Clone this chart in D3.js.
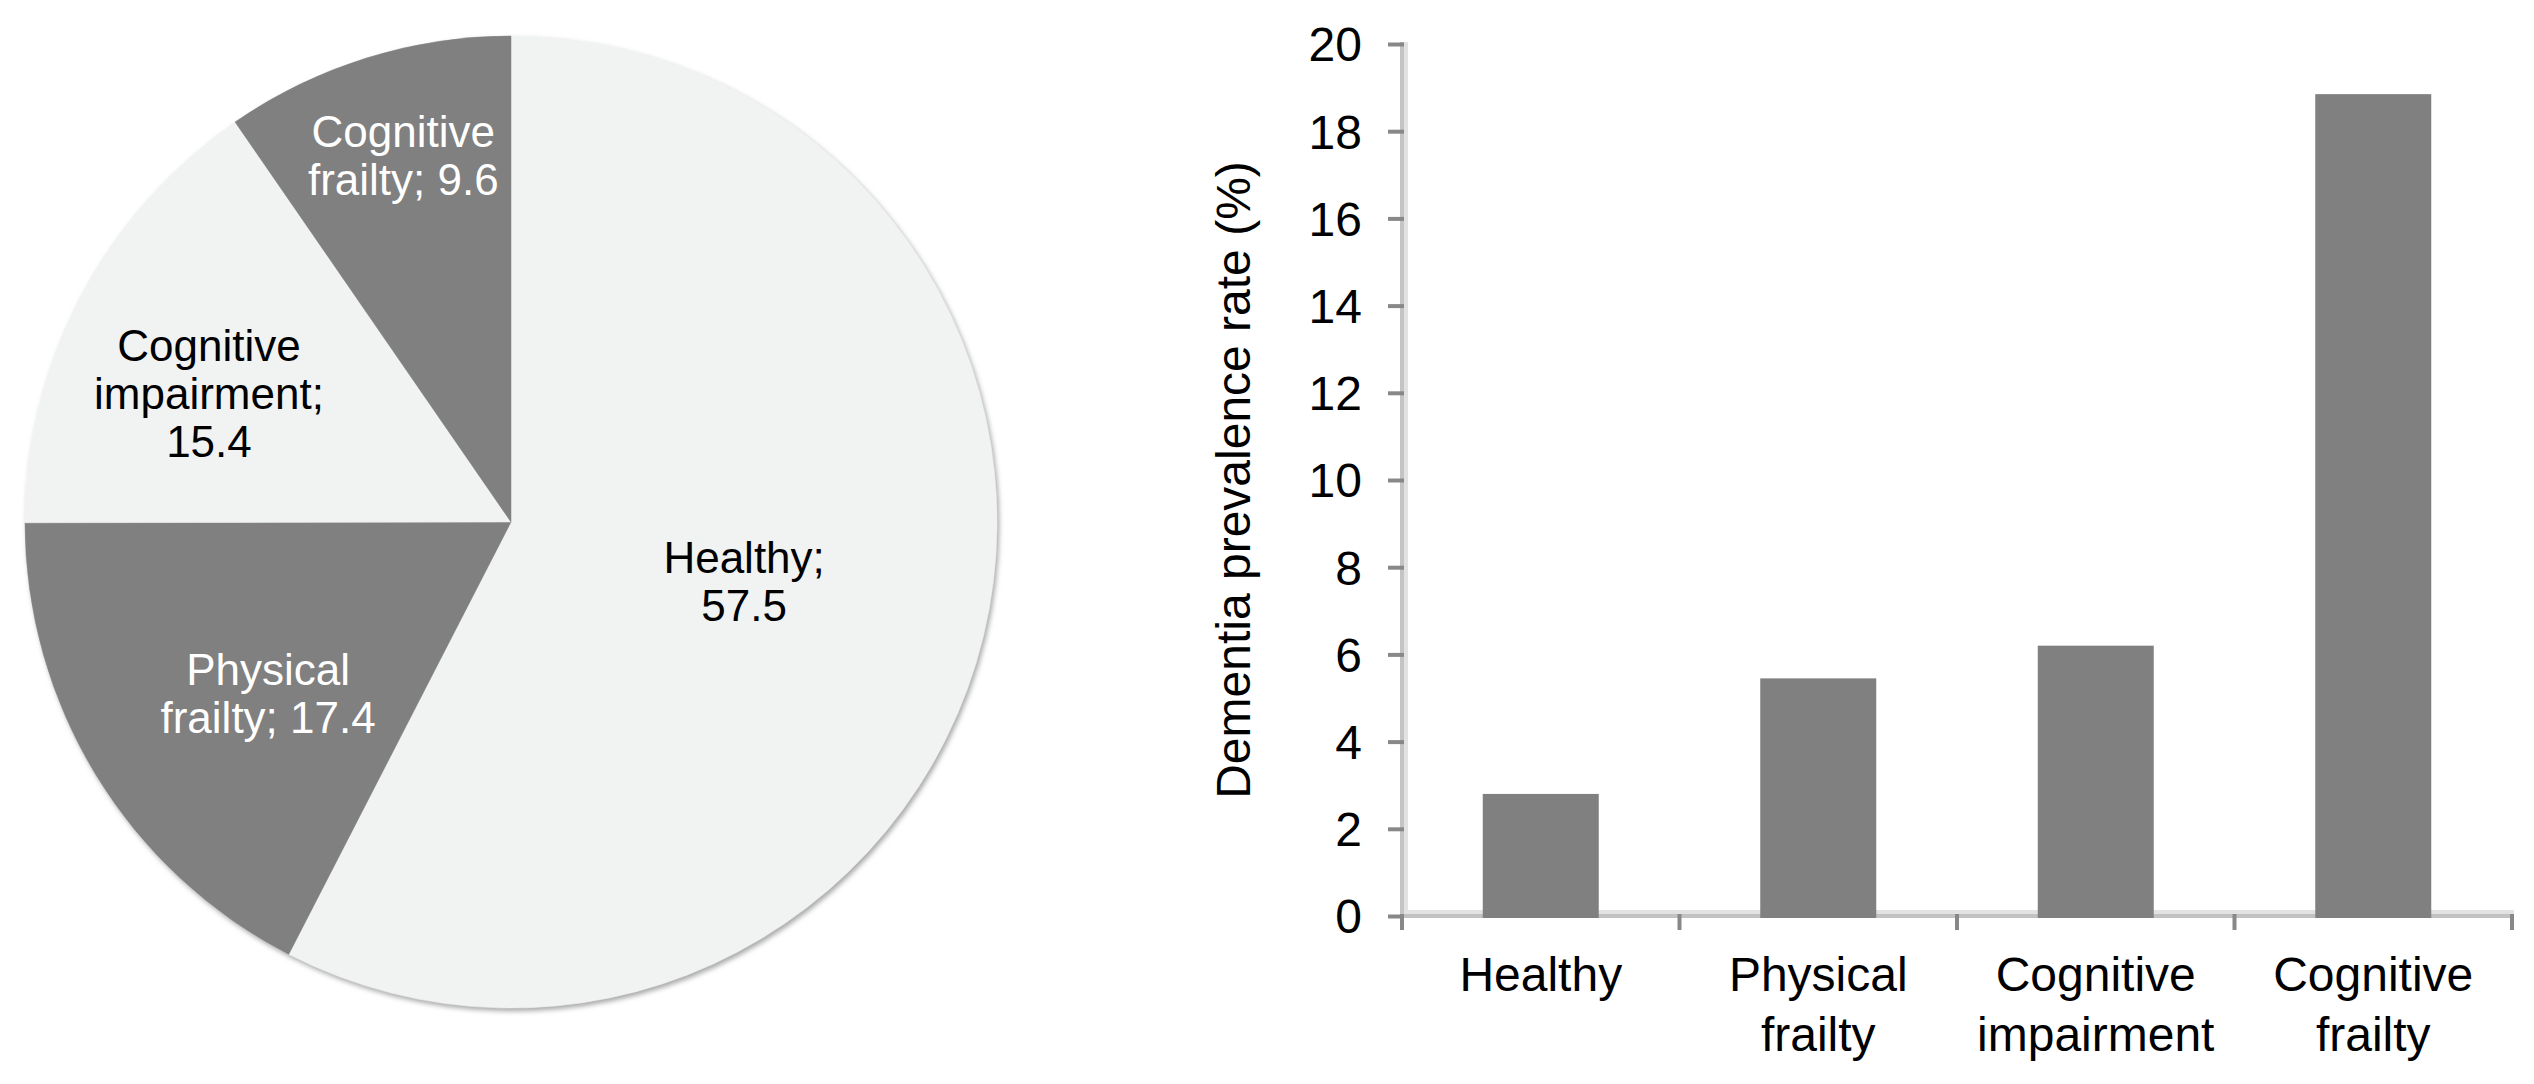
<!DOCTYPE html>
<html>
<head>
<meta charset="utf-8">
<script src="https://cdn.jsdelivr.net/npm/d3@7/dist/d3.min.js"></script>
<style>
  html, body { margin: 0; padding: 0; background: #ffffff; }
  svg { display: block; }
  text { font-family: "Liberation Sans", Arial, Helvetica, sans-serif; }
</style>
</head>
<body>
<svg id="chart" width="2534" height="1084"></svg>
<script>
// ---------- data ----------
const pieCategories = ["Healthy", "Physical frailty", "Cognitive impairment", "Cognitive frailty"];
const pieValues = [57.5, 17.4, 15.4, 9.6];
const pieLabelLines = [
  ["Healthy;", "57.5"],
  ["Physical", "frailty; 17.4"],
  ["Cognitive", "impairment;", "15.4"],
  ["Cognitive", "frailty; 9.6"]
];

const barCategories = ["Healthy", "Physical frailty", "Cognitive impairment", "Cognitive frailty"];
const barLabelLines = [["Healthy"], ["Physical", "frailty"], ["Cognitive", "impairment"], ["Cognitive", "frailty"]];
const barValues = [2.8, 5.45, 6.2, 18.85];
const yTickValues = [0, 2, 4, 6, 8, 10, 12, 14, 16, 18, 20];
const yAxisTitle = "Dementia prevalence rate (%)";

// ---------- styles / layout ----------
const svg = d3.select("#chart");
const DARK = "#808080", LIGHT = "#f1f2f2";
const sliceColors = [LIGHT, DARK, LIGHT, DARK];
const sliceText = ["#000000", "#ffffff", "#000000", "#ffffff"];
// label placement (fraction of radius, angular nudge in degrees)
const labelRadiusFactor = [0.495, 0.612, 0.675, 0.785];
const labelAngleNudge = [0.7, -3.8, -4.7, 0.9];

const defs = svg.append("defs");
const f = defs.append("filter").attr("id", "shadow")
  .attr("x", "-5%").attr("y", "-5%").attr("width", "110%").attr("height", "110%");
f.append("feDropShadow").attr("dx", 2).attr("dy", 3).attr("stdDeviation", 2.5)
  .attr("flood-color", "#8a8a8a").attr("flood-opacity", 0.75);

// ---------- pie ----------
const cx = 511, cy = 522, R = 486;
const pie = d3.pie().sort(null).value(d => d);
const arcs = pie(pieValues);
const arc = d3.arc().innerRadius(0).outerRadius(R);

const pg = svg.append("g").attr("transform", `translate(${cx},${cy})`);
pg.append("g").attr("filter", "url(#shadow)")
  .selectAll("path").data(arcs).join("path")
  .attr("d", arc)
  .attr("fill", (d, i) => sliceColors[i])
  .attr("stroke", (d, i) => sliceColors[i])
  .attr("stroke-width", 0.5);

const pieFont = 44, pieLine = 48;
arcs.forEach((d, i) => {
  const mid = (d.startAngle + d.endAngle) / 2 + labelAngleNudge[i] * Math.PI / 180;
  const r = R * labelRadiusFactor[i];
  const lx = r * Math.sin(mid), ly = -r * Math.cos(mid);
  const lines = pieLabelLines[i];
  const firstBase = ly - (lines.length - 1) * pieLine / 2 + pieFont * 0.35;
  const t = pg.append("text")
    .attr("text-anchor", "middle")
    .attr("font-size", pieFont)
    .attr("fill", sliceText[i]);
  lines.forEach((s, j) => {
    t.append("tspan").attr("x", lx).attr("y", firstBase + j * pieLine).text(s);
  });
});

// ---------- bar chart ----------
const x0 = 1402, x1 = 2512, yTop = 44, yBase = 916;
const pad = 1 - 116 / ((x1 - x0) / barCategories.length);
const x = d3.scaleBand().domain(barCategories).range([x0, x1])
  .paddingInner(pad).paddingOuter(pad / 2);
const y = d3.scaleLinear().domain([0, 20]).range([yBase, yTop]);

const bg = svg.append("g");

// y axis line (two-tone)
bg.append("rect").attr("x", x0 - 2).attr("y", y(20) - 2).attr("width", 4).attr("height", y(0) - y(20) + 4).attr("fill", "#c4c4c4");
bg.append("rect").attr("x", x0 + 2).attr("y", y(20) - 2).attr("width", 4).attr("height", y(0) - y(20) - 4).attr("fill", "#e2e2e2");
// x axis line (two-tone)
bg.append("rect").attr("x", x0 + 2).attr("y", y(0) - 6).attr("width", x1 - x0).attr("height", 4).attr("fill", "#e2e2e2");
bg.append("rect").attr("x", x0 - 2).attr("y", y(0) - 2).attr("width", x1 - x0 + 4).attr("height", 4).attr("fill", "#c2c2c2");

// y ticks and labels
const yAxis = d3.axisLeft(y).tickValues(yTickValues).tickSize(16).tickPadding(26).tickFormat(d3.format("d"));
const yg = bg.append("g").attr("transform", `translate(${x0 + 2},0)`).call(yAxis);
yg.select(".domain").remove();
yg.selectAll(".tick line").attr("stroke", "#888888").attr("stroke-width", 4);
yg.selectAll(".tick text").attr("font-size", 48).attr("fill", "#000")
  .attr("font-family", '"Liberation Sans", Arial, sans-serif').attr("dy", "0.35em");

// x ticks at category boundaries
const step = x.step();
const boundaries = barCategories.map(c => x(c) + x.bandwidth() / 2 - step / 2)
  .concat([x(barCategories[barCategories.length - 1]) + x.bandwidth() / 2 + step / 2]);
bg.selectAll("line.xt").data(boundaries).join("line").attr("class", "xt")
  .attr("x1", d => d).attr("x2", d => d)
  .attr("y1", y(0) - 2).attr("y2", y(0) + 14)
  .attr("stroke", "#888888").attr("stroke-width", 4);

// bars
bg.selectAll("rect.bar").data(barValues).join("rect").attr("class", "bar")
  .attr("x", (d, i) => x(barCategories[i]))
  .attr("width", x.bandwidth())
  .attr("y", d => y(d))
  .attr("height", d => y(0) - y(d) + 2)
  .attr("fill", DARK);

// category labels
barCategories.forEach((c, i) => {
  const t = bg.append("text").attr("text-anchor", "middle").attr("font-size", 48).attr("fill", "#000");
  barLabelLines[i].forEach((s, j) => {
    t.append("tspan").attr("x", x(c) + x.bandwidth() / 2).attr("y", y(0) + 75 + j * 60).text(s);
  });
});

// y title
bg.append("text")
  .attr("transform", `translate(1250,${(y(0) + y(20)) / 2}) rotate(-90)`)
  .attr("text-anchor", "middle")
  .attr("font-size", 48)
  .attr("fill", "#000")
  .text(yAxisTitle);
</script>
</body>
</html>
